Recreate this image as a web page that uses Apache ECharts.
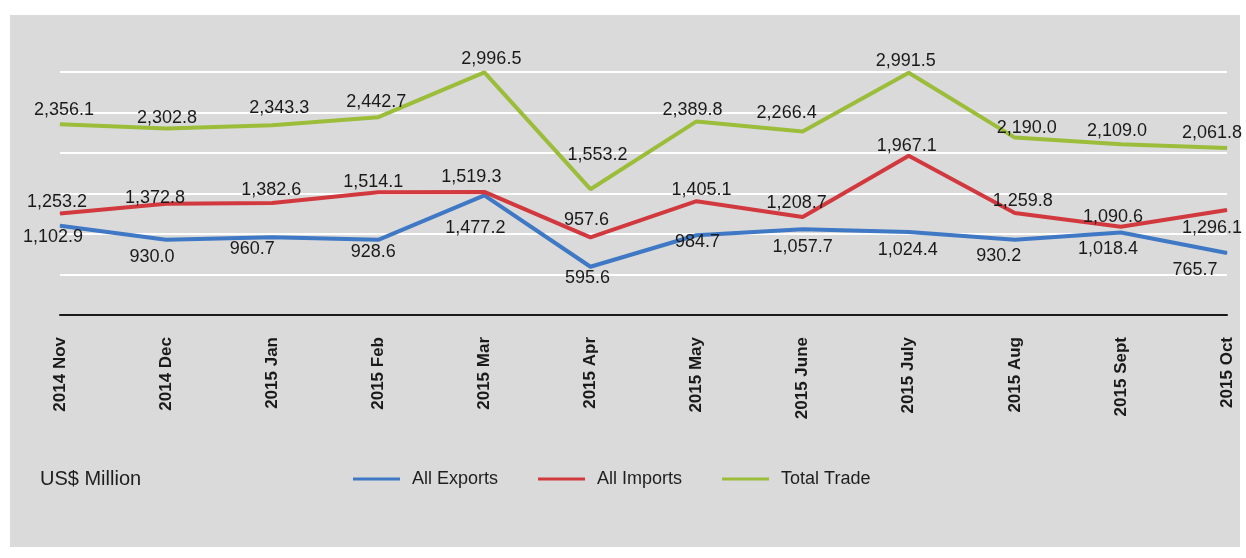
<!DOCTYPE html>
<html>
<head>
<meta charset="utf-8">
<script src="https://cdn.jsdelivr.net/npm/echarts@6/dist/echarts.min.js"></script>
<style>
html,body{margin:0;padding:0;background:#ffffff;}
#chart{width:1246px;height:558px;}
</style>
</head>
<body>
<div id="chart"></div>
<script>
// ---- data ----
var categories = ['2014 Nov','2014 Dec','2015 Jan','2015 Feb','2015 Mar','2015 Apr','2015 May','2015 June','2015 July','2015 Aug','2015 Sept','2015 Oct'];
var allExports = [1102.9, 930.0, 960.7, 928.6, 1477.2, 595.6, 984.7, 1057.7, 1024.4, 930.2, 1018.4, 765.7];
var allImports = [1253.2, 1372.8, 1382.6, 1514.1, 1519.3, 957.6, 1405.1, 1208.7, 1967.1, 1259.8, 1090.6, 1296.1];
var totalTrade = [2356.1, 2302.8, 2343.3, 2442.7, 2996.5, 1553.2, 2389.8, 2266.4, 2991.5, 2190.0, 2109.0, 2061.8];
var seriesNames = ['All Exports', 'All Imports', 'Total Trade'];
var unitLabel = 'US$ Million';

// ---- label placement (style only) ----
var exportsLabelOffset = [[-7,11],[-14,17],[-20,12],[-5,12],[-9,33],[-3,11],[1,7],[0,18],[-1,18],[-16,16],[-13,17],[-32,17]];
var importsLabelOffset = [[-3,-11],[-11,-6],[-1,-13],[-5,-10],[-13,-15],[-4,-17],[5,-11],[-6,-14],[-2,-10],[8,-12],[-8,-10],[-15,18]];
var totalLabelOffset   = [[4,-14],[1,-10],[7,-17],[-2,-15],[7,-13],[7,-34],[-4,-11],[-16,-18],[-3,-12],[12,-10],[-4,-13],[-15,-15]];

var colors = ['#3f78c4', '#d2393e', '#9cbd3a'];

function fmt(v){ return v.toLocaleString('en-US',{minimumFractionDigits:1, maximumFractionDigits:1}); }

function mk(name, values, offsets, color){
  return {
    name: name,
    type: 'line',
    data: values.map(function(v,i){ return {value:v, label:{offset:offsets[i]}}; }),
    symbol: 'circle',
    symbolSize: 1,
    showSymbol: true,
    lineStyle: {color: color, width: 4},
    itemStyle: {color: color},
    emphasis: {disabled: true},
    label: {
      show: true,
      position: 'inside',
      color: '#1a1a1a',
      fontFamily: 'Liberation Sans, Arial, sans-serif',
      fontSize: 18,
      formatter: function(p){ return fmt(p.value); }
    },
    animation: false
  };
}

var chart = echarts.init(document.getElementById('chart'), null, {renderer:'canvas'});
chart.setOption({
  animation: false,
  color: colors,
  graphic: [{
    type: 'rect', z: -10, silent: true,
    shape: {x: 10, y: 15, width: 1230, height: 532},
    style: {fill: '#dadada'}
  }],
  title: {
    text: unitLabel,
    left: 35, top: 464,
    textStyle: {fontFamily:'Liberation Sans, Arial, sans-serif', fontSize: 20, fontWeight: 'normal', color: '#1e1e1e'}
  },
  legend: {
    data: seriesNames,
    left: 348, top: 465,
    icon: 'rect',
    itemWidth: 47, itemHeight: 3,
    itemGap: 40,
    textStyle: {fontFamily:'Liberation Sans, Arial, sans-serif', fontSize: 18, color: '#1e1e1e', padding:[0,0,0,7]}
  },
  grid: {left: 60, right: 19, top: 72, bottom: 243, containLabel: false},
  xAxis: {
    type: 'category',
    data: categories,
    boundaryGap: false,
    axisLine: {lineStyle: {color: '#1a1a1a', width: 2}},
    axisTick: {show: false},
    axisLabel: {
      rotate: 90, margin: 22, interval: 0,
      fontFamily: 'Liberation Sans, Arial, sans-serif',
      fontSize: 17, fontWeight: 'bold', color: '#1a1a1a'
    },
    splitLine: {show: false}
  },
  yAxis: {
    type: 'value',
    min: 0, max: 3000, interval: 500,
    axisLine: {show: false},
    axisTick: {show: false},
    axisLabel: {show: false},
    splitLine: {lineStyle: {color: '#ffffff', width: 2}}
  },
  series: [
    mk(seriesNames[0], allExports, exportsLabelOffset, colors[0]),
    mk(seriesNames[1], allImports, importsLabelOffset, colors[1]),
    mk(seriesNames[2], totalTrade, totalLabelOffset, colors[2])
  ]
});
</script>
</body>
</html>
